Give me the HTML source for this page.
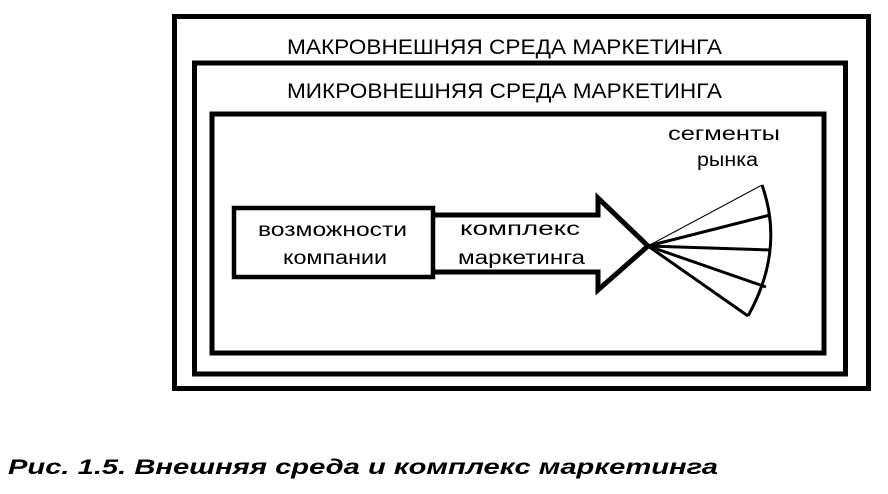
<!DOCTYPE html>
<html><head><meta charset="utf-8"><style>
html,body{margin:0;padding:0;background:#fff;width:888px;height:494px;overflow:hidden}
svg{display:block}
text{font-family:"Liberation Sans","DejaVu Sans",sans-serif;fill:#000}
</style></head><body>
<svg width="888" height="494" viewBox="0 0 888 494">
<rect x="174.5" y="16.5" width="694" height="372" fill="none" stroke="#000" stroke-width="5"/>
<rect x="194.5" y="63" width="651" height="311" fill="none" stroke="#000" stroke-width="5"/>
<rect x="212" y="114" width="612" height="239" fill="none" stroke="#000" stroke-width="5"/>
<text x="287" y="54" font-size="21" textLength="435" lengthAdjust="spacingAndGlyphs">МАКРОВНЕШНЯЯ СРЕДА МАРКЕТИНГА</text>
<text x="287" y="98" font-size="21" textLength="435" lengthAdjust="spacingAndGlyphs">МИКРОВНЕШНЯЯ СРЕДА МАРКЕТИНГА</text>
<rect x="234" y="208" width="199" height="69" fill="none" stroke="#000" stroke-width="4.5"/>
<text x="258" y="236" font-size="19" textLength="149" lengthAdjust="spacingAndGlyphs">возможности</text>
<text x="283" y="264" font-size="19" textLength="104" lengthAdjust="spacingAndGlyphs">компании</text>
<polyline points="435,215 598,215 598,198 648,246 598,290 598,272 435,272" fill="none" stroke="#000" stroke-width="5" stroke-linejoin="miter"/>
<text x="460" y="235" font-size="19" textLength="120" lengthAdjust="spacingAndGlyphs">комплекс</text>
<text x="458" y="264" font-size="19" textLength="127" lengthAdjust="spacingAndGlyphs">маркетинга</text>
<text x="668" y="140" font-size="19" textLength="112" lengthAdjust="spacingAndGlyphs">сегменты</text>
<text x="697" y="166" font-size="19" textLength="61" lengthAdjust="spacingAndGlyphs">рынка</text>
<g stroke="#000" fill="none">
<line x1="648" y1="246" x2="762" y2="185" stroke-width="1"/>
<line x1="648" y1="246" x2="770" y2="215" stroke-width="3"/>
<line x1="648" y1="246" x2="771" y2="250" stroke-width="3"/>
<line x1="648" y1="246" x2="766" y2="287" stroke-width="3"/>
<line x1="648" y1="246" x2="748" y2="316" stroke-width="3"/>
<path d="M762,185 Q785,250 748,316" stroke-width="3"/>
</g>
<text x="8" y="474" font-size="21" font-weight="bold" font-style="italic" textLength="710" lengthAdjust="spacingAndGlyphs">Рис. 1.5. Внешняя среда и комплекс маркетинга</text>
</svg>
</body></html>
